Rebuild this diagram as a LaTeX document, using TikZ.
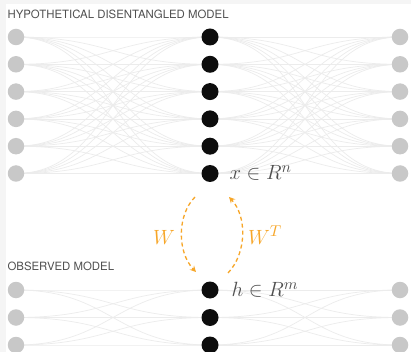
\documentclass[tikz,border=0pt]{standalone}
\usepackage{fontspec}
\setmainfont{TeX Gyre Heros}
\usetikzlibrary{arrows.meta,backgrounds}
\definecolor{panelgray}{RGB}{245,245,245}
\definecolor{unitgray}{RGB}{200,200,200}
\definecolor{wiregray}{RGB}{236,236,236}
\definecolor{textgray}{RGB}{80,80,80}
\definecolor{worange}{RGB}{247,166,40}
\newcommand{\bigmath}[1]{\scalebox{1.43}{$#1$}}
\tikzset{
  unit/.style={circle, fill=unitgray, minimum size=16.5pt, inner sep=0pt},
  hidden/.style={circle, fill=black!95, minimum size=17pt, inner sep=0pt},
  wire/.style={wiregray, line width=0.7pt},
  title/.style={anchor=west, text=textgray, font=\fontsize{11.4}{13}\selectfont},
  mlabel/.style={anchor=west, text=textgray, font=\fontsize{15}{17}\selectfont},
  wlabel/.style={text=worange, font=\fontsize{15}{17}\selectfont},
  warrow/.style={worange, line width=1.3pt, dash pattern=on 4pt off 3pt, -{Stealth[length=6pt,width=6pt]}}
}
\begin{document}
\begin{tikzpicture}[x=1pt, y=-1pt]
  \begin{pgfonlayer}{background}
    \fill[panelgray] (0,0) rectangle (411,352);
    \fill[white] (6,4) rectangle (411,352);
  \end{pgfonlayer}
  \useasboundingbox (0,0) rectangle (411,352);
  % top model
  \node[title] (toptitle) at (4,14) {HYPOTHETICAL DISENTANGLED MODEL};
  \foreach \i in {1,...,6} {
    \node[unit] (l\i) at (16, 37+27.3*\i-27.3) {};
    \node[hidden] (m\i) at (210, 37+27.3*\i-27.3) {};
    \node[unit] (r\i) at (400, 37+27.3*\i-27.3) {};
  }
  \begin{pgfonlayer}{background}
    \foreach \i in {1,...,6} \foreach \j in {1,...,6} {
      \draw[wire] (l\i.center) .. controls +(95,0) and +(-95,0) .. (m\j.center);
      \draw[wire] (m\i.center) .. controls +(95,0) and +(-95,0) .. (r\j.center);
    }
  \end{pgfonlayer}
  \node[mlabel] (xlab) at (226,173) {\bigmath{x \in R^n}};
  % observed model
  \node[title] (bottitle) at (4,266) {OBSERVED MODEL};
  \foreach \i in {1,...,3} {
    \node[unit] (bl\i) at (16, 290+27.5*\i-27.5) {};
    \node[hidden] (bm\i) at (210, 290+27.5*\i-27.5) {};
    \node[unit] (br\i) at (400, 290+27.5*\i-27.5) {};
  }
  \begin{pgfonlayer}{background}
    \foreach \i in {1,...,3} \foreach \j in {1,...,3} {
      \draw[wire] (bl\i.center) .. controls +(95,0) and +(-95,0) .. (bm\j.center);
      \draw[wire] (bm\i.center) .. controls +(95,0) and +(-95,0) .. (br\j.center);
    }
  \end{pgfonlayer}
  \node[mlabel] (hlab) at (228,290) {\bigmath{h \in R^m}};
  % W and its transpose
  \coordinate (wa) at (195,197);
  \coordinate (wb) at (196,272);
  \coordinate (ta) at (228,273);
  \coordinate (tb) at (229,197);
  \draw[warrow] (wa) .. controls (177,215) and (177,252) .. (wb);
  \draw[warrow] (ta) .. controls (247,253) and (247,216) .. (tb);
  \node[wlabel] (wlab) at (164,237) {\bigmath{W}};
  \node[wlabel] (wtlab) at (265,235) {\bigmath{W^T}};
\end{tikzpicture}
\end{document}
